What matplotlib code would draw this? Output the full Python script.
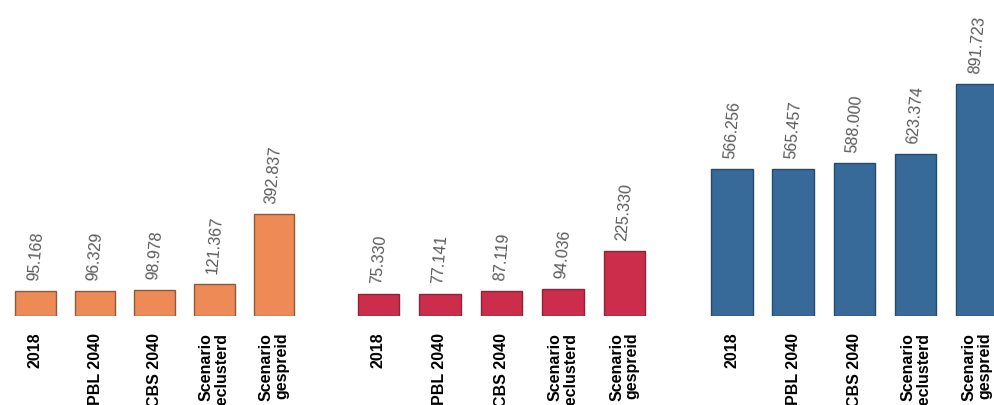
import matplotlib.pyplot as plt
import numpy as np

categories = ['2018', 'PBL 2040', 'CBS 2040', 'Scenario\ngeclusterd', 'Scenario\ngespreid']
orange_vals = [95.168, 96.329, 98.978, 121.367, 392.837]
red_vals = [75.330, 77.141, 87.119, 94.036, 225.330]
blue_vals = [566.256, 565.457, 588.000, 623.374, 891.723]

W, H = 995, 405
fig = plt.figure(figsize=(W / 100, H / 100), dpi=100)
plt.rcParams['font.family'] = ['Liberation Sans', 'DejaVu Sans']

base = 316  # baseline in pixels from the top
# (left px, width px, ylim top, fill, edge, values)
groups = [
    (5.7, 298, 316 / 0.26, '#ee8a55', '#8c5a3c', orange_vals),
    (347.7, 307.5, 316 / 0.29, '#cc2d4a', '#8e2536', red_vals),
    (701.4, 306, 316 / 0.26, '#386a99', '#27496b', blue_vals),
]

for left, width, ytop, fill, edge, vals in groups:
    ax = fig.add_axes([left / W, 1 - base / H, width / W, base / H])
    x = np.arange(len(vals))
    ax.bar(x, vals, width=0.68, color=fill, edgecolor=edge, linewidth=1)
    ax.set_xlim(-0.5, 4.5)
    ax.set_ylim(0, ytop)
    for xi, v in zip(x, vals):
        ax.annotate(f'{v:.3f}', (xi, v), xytext=(0, 7), textcoords='offset points',
                    rotation=85, ha='center', va='bottom', fontsize=11.5,
                    color='#5a5a5a')
    ax.set_xticks(x)
    ax.set_xticklabels(categories, rotation=90, fontweight='bold', fontsize=11.5,
                       multialignment='right', linespacing=1.05)
    ax.tick_params(axis='x', length=0, pad=12)
    ax.set_yticks([])
    for s in ax.spines.values():
        s.set_visible(False)
    ax.patch.set_alpha(0)

fig.savefig('out.png', dpi=100)
